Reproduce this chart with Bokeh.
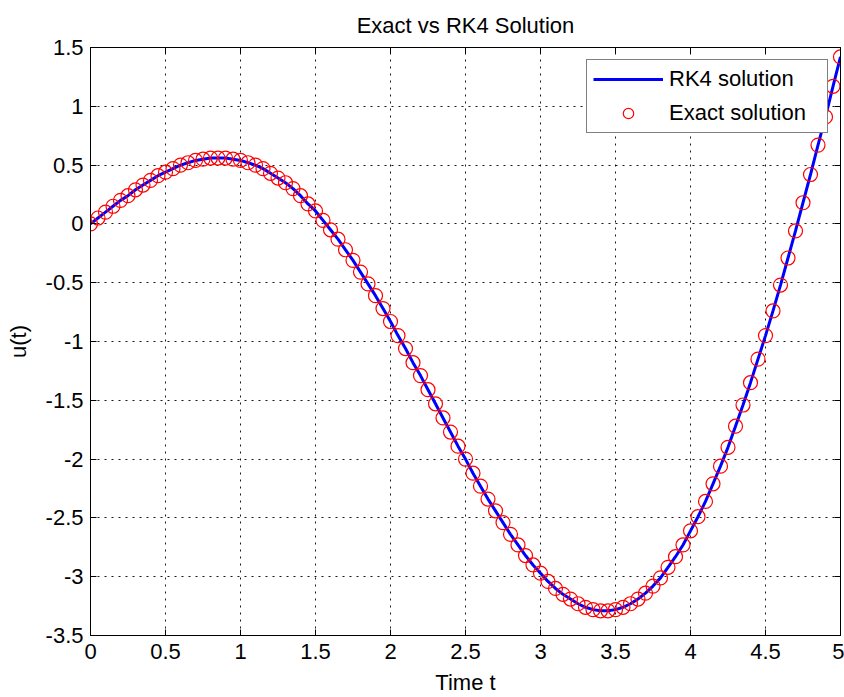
from bokeh.plotting import figure
from bokeh.models import Range1d, FixedTicker, LinearAxis, Legend, LegendItem
from bokeh.embed import file_html
from bokeh.resources import INLINE

# ---- data ----
t_values = [0.00, 0.05, 0.10, 0.15, 0.20, 0.25, 0.30, 0.35, 0.40, 0.45,
            0.50, 0.55, 0.60, 0.65, 0.70, 0.75, 0.80, 0.85, 0.90, 0.95,
            1.00, 1.05, 1.10, 1.15, 1.20, 1.25, 1.30, 1.35, 1.40, 1.45,
            1.50, 1.55, 1.60, 1.65, 1.70, 1.75, 1.80, 1.85, 1.90, 1.95,
            2.00, 2.05, 2.10, 2.15, 2.20, 2.25, 2.30, 2.35, 2.40, 2.45,
            2.50, 2.55, 2.60, 2.65, 2.70, 2.75, 2.80, 2.85, 2.90, 2.95,
            3.00, 3.05, 3.10, 3.15, 3.20, 3.25, 3.30, 3.35, 3.40, 3.45,
            3.50, 3.55, 3.60, 3.65, 3.70, 3.75, 3.80, 3.85, 3.90, 3.95,
            4.00, 4.05, 4.10, 4.15, 4.20, 4.25, 4.30, 4.35, 4.40, 4.45,
            4.50, 4.55, 4.60, 4.65, 4.70, 4.75, 4.80, 4.85, 4.90, 4.95,
            5.00]

rk4_values = [0.00, 0.05, 0.10, 0.15, 0.20, 0.24, 0.29, 0.33, 0.37, 0.41,
              0.44, 0.47, 0.50, 0.52, 0.54, 0.55, 0.56, 0.56, 0.56, 0.55,
              0.54, 0.52, 0.50, 0.47, 0.43, 0.39, 0.35, 0.30, 0.24, 0.17,
              0.11, 0.03, -0.05, -0.13, -0.22, -0.31, -0.41, -0.51, -0.61, -0.72,
              -0.83, -0.95, -1.06, -1.18, -1.29, -1.41, -1.53, -1.65, -1.77, -1.89,
              -2.00, -2.12, -2.23, -2.34, -2.44, -2.54, -2.64, -2.73, -2.82, -2.90,
              -2.97, -3.04, -3.10, -3.15, -3.19, -3.23, -3.26, -3.28, -3.29, -3.29,
              -3.28, -3.26, -3.23, -3.19, -3.14, -3.08, -3.01, -2.92, -2.83, -2.73,
              -2.61, -2.49, -2.36, -2.21, -2.06, -1.90, -1.72, -1.54, -1.35, -1.15,
              -0.95, -0.74, -0.52, -0.29, -0.06, 0.18, 0.42, 0.67, 0.91, 1.17,
              1.42]

exact_values = [0.00, 0.05, 0.10, 0.15, 0.20, 0.24, 0.29, 0.33, 0.37, 0.41,
                0.44, 0.47, 0.50, 0.52, 0.54, 0.55, 0.56, 0.56, 0.56, 0.55,
                0.54, 0.52, 0.50, 0.47, 0.43, 0.39, 0.35, 0.30, 0.24, 0.17,
                0.11, 0.03, -0.05, -0.13, -0.22, -0.31, -0.41, -0.51, -0.61, -0.72,
                -0.83, -0.95, -1.06, -1.18, -1.29, -1.41, -1.53, -1.65, -1.77, -1.89,
                -2.00, -2.12, -2.23, -2.34, -2.44, -2.54, -2.64, -2.73, -2.82, -2.90,
                -2.97, -3.04, -3.10, -3.15, -3.19, -3.23, -3.26, -3.28, -3.29, -3.29,
                -3.28, -3.26, -3.23, -3.19, -3.14, -3.08, -3.01, -2.92, -2.83, -2.73,
                -2.61, -2.49, -2.36, -2.21, -2.06, -1.90, -1.72, -1.54, -1.35, -1.15,
                -0.95, -0.74, -0.52, -0.29, -0.06, 0.18, 0.42, 0.67, 0.91, 1.17,
                1.42]

x_ticks = [0, 0.5, 1, 1.5, 2, 2.5, 3, 3.5, 4, 4.5, 5]
x_tick_labels = ["0", "0.5", "1", "1.5", "2", "2.5", "3", "3.5", "4", "4.5", "5"]
y_ticks = [-3.5, -3, -2.5, -2, -1.5, -1, -0.5, 0, 0.5, 1, 1.5]
y_tick_labels = ["-3.5", "-3", "-2.5", "-2", "-1.5", "-1", "-0.5", "0", "0.5", "1", "1.5"]

title_text = "Exact vs RK4 Solution"
x_label = "Time t"
y_label = "u(t)"
series_names = ["RK4 solution", "Exact solution"]

FONT = "Liberation Sans"
FS = "22px"

p = figure(width=844, height=697, output_backend="svg", toolbar_location=None,
           x_range=Range1d(0, 5), y_range=Range1d(-3.5, 1.5),
           min_border_left=90, min_border_right=4, min_border_top=47,
           min_border_bottom=62)

p.background_fill_color = "white"
p.border_fill_color = "white"
p.outline_line_color = "black"
p.outline_line_width = 1

p.title.text = title_text
p.title.align = "center"
p.title.text_font = FONT
p.title.text_font_size = FS
p.title.text_font_style = "normal"
p.title.text_color = "black"
p.title.standoff = 19

xt = FixedTicker(ticks=x_ticks)
yt = FixedTicker(ticks=y_ticks)


def overrides(ticks, labels):
    return {(int(v) if float(v).is_integer() else float(v)): s for v, s in zip(ticks, labels)}


for ax in p.xaxis:
    ax.ticker = xt
    ax.major_label_overrides = overrides(x_ticks, x_tick_labels)
for ax in p.yaxis:
    ax.ticker = yt
    ax.major_label_overrides = overrides(y_ticks, y_tick_labels)

p.xaxis.axis_label = x_label
p.yaxis.axis_label = y_label

for ax in list(p.xaxis) + list(p.yaxis):
    ax.axis_line_color = "black"
    ax.axis_line_width = 1
    ax.major_tick_in = 6
    ax.major_tick_out = 0
    ax.major_tick_line_color = "black"
    ax.minor_tick_line_color = None
    ax.major_label_text_font = FONT
    ax.major_label_text_font_size = FS
    ax.major_label_text_color = "black"
    ax.axis_label_text_font = FONT
    ax.axis_label_text_font_size = FS
    ax.axis_label_text_font_style = "normal"
    ax.axis_label_text_color = "black"

p.xaxis.major_label_standoff = 8
p.xaxis.axis_label_standoff = 8
p.yaxis.major_label_standoff = 7
p.yaxis.axis_label_standoff = 12

# box axes (top / right) with ticks only, no labels
top_ax = LinearAxis(ticker=xt, major_label_text_color=None, major_tick_in=6,
                    major_tick_out=0, minor_tick_line_color=None,
                    axis_line_color="black", major_label_standoff=0)
right_ax = LinearAxis(ticker=yt, major_label_text_color=None, major_tick_in=6,
                      major_tick_out=0, minor_tick_line_color=None,
                      axis_line_color="black", major_label_standoff=0)
p.add_layout(top_ax, "above")
p.add_layout(right_ax, "right")

for g in [p.xgrid, p.ygrid]:
    g.grid_line_color = "black"
    g.grid_line_dash = "2 5"
    g.grid_line_width = 1
    g.grid_line_alpha = 0.9

line_r = p.line(t_values, rk4_values, line_color="#0000FF", line_width=3)
circ_r = p.scatter(t_values, exact_values, marker="circle", size=14,
                   fill_color=None, line_color="#FF0000", line_width=1.2)

legend = Legend(items=[LegendItem(label=series_names[0], renderers=[line_r]),
                       LegendItem(label=series_names[1], renderers=[circ_r])],
                location="top_right")
legend.label_text_font = FONT
legend.label_text_font_size = FS
legend.label_text_color = "black"
legend.border_line_color = "black"
legend.border_line_width = 1
legend.background_fill_color = "white"
legend.background_fill_alpha = 1.0
legend.padding = 6
legend.spacing = 8
legend.margin = 12
legend.glyph_width = 70
legend.glyph_height = 26
legend.label_height = 26
legend.label_width = 152
legend.label_standoff = 6
p.add_layout(legend, "center")

open("out.html", "w").write(file_html(p, INLINE))
